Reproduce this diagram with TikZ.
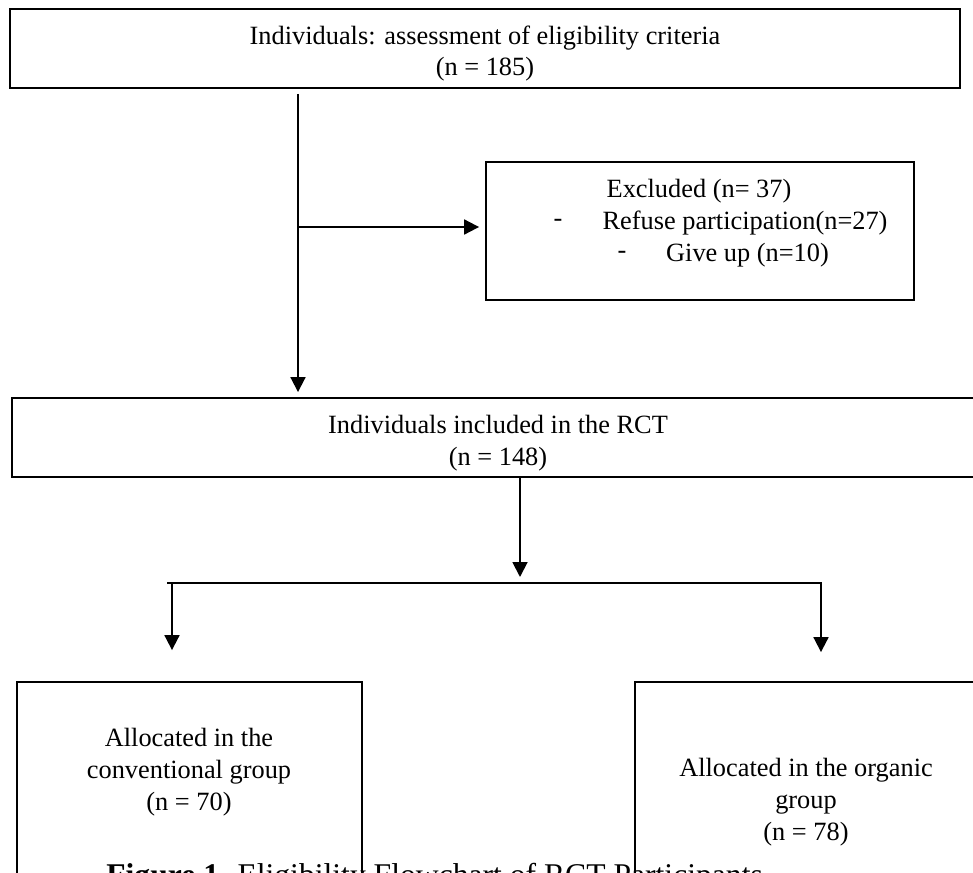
\documentclass[tikz,border=0pt]{standalone}
\usepackage{fontspec}
\setmainfont{Liberation Serif}
\usetikzlibrary{arrows.meta}

\begin{document}
\begin{tikzpicture}[x=0.02cm,y=-0.02cm,
		box/.style={draw,line width=1.1pt,inner sep=0pt},
		txt/.style={inner sep=0pt,align=center,font=\fontsize{15}{18.1}\selectfont},
		line/.style={line width=1.1pt},
		arr/.style={-{Triangle[length=8.5pt,width=8.5pt]},line width=1.1pt}]
		\clip (0,0) rectangle (973,872);
		
		\node[anchor=base west,inner sep=0pt,font=\fontsize{18}{21}\selectfont](cap) at (106,885){\textbf{Figure 1.} Eligibility Flowchart of RCT Participants};
		
		\node[box,minimum width=19cm,minimum height=1.58cm](elig) at (485,48.5){};
		\node[box,minimum width=8.56cm,minimum height=2.76cm](excl) at (700,231){};
		\node[box,minimum width=19.44cm,minimum height=1.58cm](incl) at (498,437.5){};
		\node[box,minimum width=6.9cm,minimum height=5cm](conv) at (189.5,807){};
		\node[box,minimum width=7.3cm,minimum height=5cm](org) at (817.5,807){};
		
		\node[txt](eligT) at (485,53.5){Individuals: assessment of eligibility criteria\\(n = 185)};
		\node[txt](exclT) at (699,191){Excluded (n= 37)};
		\node[txt](dash1) at (558,223){-};
		\node[txt](item1) at (745,223){Refuse participation(n=27)};
		\node[txt](dash2) at (622,255){-};
		\node[txt](item2) at (747.5,255){Give up (n=10)};
		\node[txt](inclT) at (498,443.5){Individuals included in the RCT\\(n = 148)};
		\node[txt](convT) at (189,772){Allocated in the\\conventional group\\(n = 70)};
		\node[txt](orgT) at (806,802){Allocated in the organic\\group\\(n = 78)};
		
		\coordinate(S1) at (298,227);
		\coordinate(S2) at (520,583);
		\coordinate(BL) at (167,583);
		\coordinate(BR) at (822,583);
		\coordinate(AL) at (172,583);
		\coordinate(AR) at (821,583);
		
		\draw[arr,shorten <=0.1cm,shorten >=0.1cm](elig.south -| S1)--(incl.north -| S1);
		\draw[arr,shorten >=0.12cm](S1)--(S1 -| excl.west);
		\draw[arr,shorten >=0.12cm](incl.south -| S2)--(S2);
		\draw[line](BL)--(BR);
		\draw[arr,shorten >=0.62cm](AL)--(AL |- conv.north);
		\draw[arr,shorten >=0.58cm](AR)--(AR |- org.north);
	\end{tikzpicture}
\end{document}
